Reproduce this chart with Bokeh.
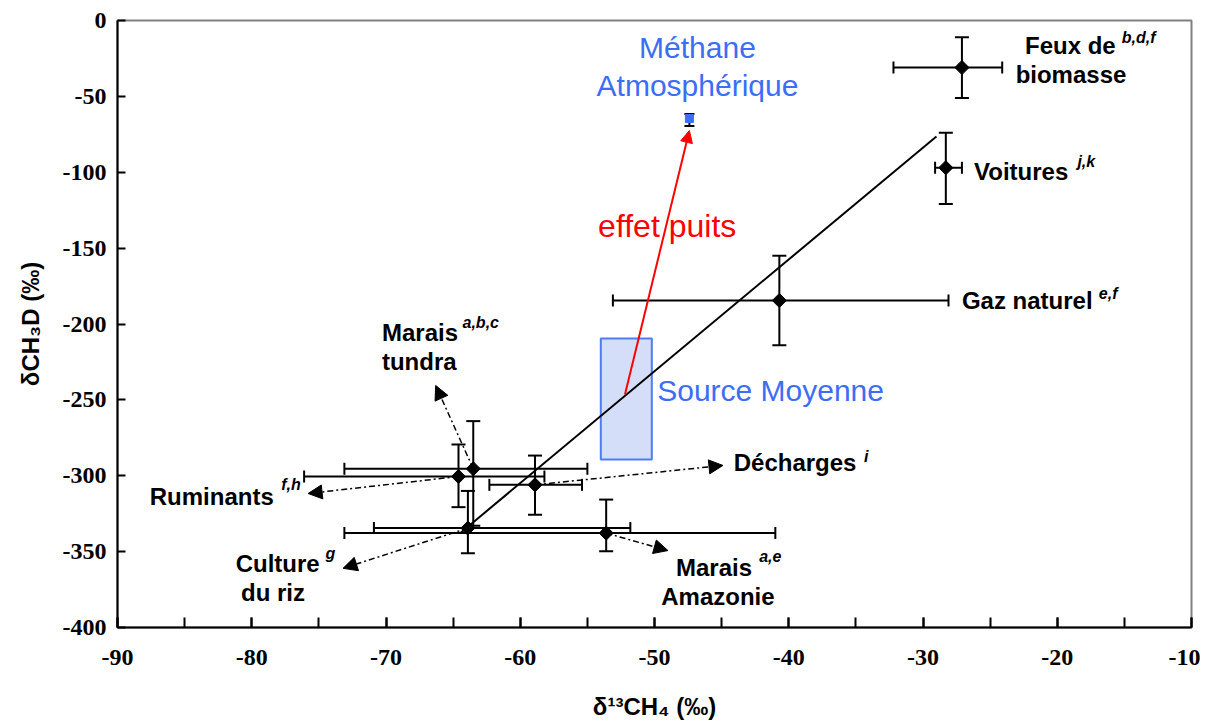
import math
from bokeh.plotting import figure
from bokeh.models import (ColumnDataSource, Whisker, TeeHead, Arrow, NormalHead,
                          FixedTicker, Range1d)
from bokeh.core.properties import value
from bokeh.embed import file_html
from bokeh.resources import INLINE

# ---------------- data ----------------
src_names = ["Feux de biomasse", "Voitures", "Gaz naturel", "Marais tundra",
             "Ruminants", "Décharges", "Culture du riz", "Marais Amazonie"]
src_x = [-27.1, -28.3, -40.7, -63.5, -64.6, -58.9, -63.9, -53.6]
src_y = [-31.0, -97.0, -184.5, -295.4, -300.5, -306.0, -334.5, -337.8]
src_x_low = [-32.2, -29.1, -53.1, -73.1, -76.1, -62.3, -70.9, -73.1]
src_x_high = [-24.1, -27.1, -28.1, -55.0, -58.2, -55.4, -51.8, -41.0]
src_y_low = [-51.0, -121.0, -214.0, -333.0, -320.7, -325.7, -351.0, -349.7]
src_y_high = [-11.0, -74.0, -155.0, -264.0, -279.4, -286.7, -310.0, -315.7]

# arrow end points of the dashed pointers (start = source point)
ptr_x_end = [-66.3, -75.8, -44.9, -73.2, -49.0]
ptr_y_end = [-240.5, -311.7, -293.2, -361.0, -349.3]
ptr_from = [3, 4, 5, 6, 7]

atm_x = [-47.4]
atm_y = [-64.6]
atm_y_low = [-69.5]
atm_y_high = [-61.6]

fit_x = [-64.5, -29.0]
fit_y = [-338.0, -76.4]

box_left, box_right = [-54.0], [-50.2]
box_top, box_bottom = [-209.6], [-289.3]

sink_x = [-52.2, -47.4]
sink_y = [-246.5, -72.5]

x_ticks = list(range(-90, -9, 10))
x_minor = list(range(-90, -9, 5))
y_ticks = list(range(-400, 1, 50))

# labels
lab_text = ["Feux de", "biomasse", "Voitures", "Gaz naturel", "Marais", "tundra",
            "Ruminants", "Décharges", "Culture", "du riz", "Marais", "Amazonie"]
lab_x = [-22.4, -23.1, -26.2, -27.1, -70.3, -70.3, -87.6, -44.1, -81.2, -80.8, -48.4, -49.5]
lab_y = [-16.5, -35.6, -99.5, -184.5, -205.6, -224.7, -314.0, -291.0, -357.8, -377.0, -360.5, -379.6]

sup_text = ["b,d,f", "j,k", "e,f", "a,b,c", "f,h", "i", "g", "a,e"]
sup_x = [-15.2, -18.5, -16.9, -64.3, -77.8, -34.4, -74.5, -42.2]
sup_y = [-11.2, -92.9, -179.9, -199.0, -305.8, -287.3, -351.2, -353.2]

blue_text = ["Méthane", "Atmosphérique", "Source Moyenne"]
blue_x = [-46.8, -46.8, -49.8]
blue_y = [-17.8, -42.8, -243.8]
blue_align = ["center", "center", "left"]

red_text = ["effet puits"]
red_x = [-54.2]
red_y = [-135.7]

BLUE = "#3C6DF5"

# ---------------- figure ----------------
p = figure(width=1200, height=722, x_range=Range1d(-90, -10), y_range=Range1d(-400, 0),
           output_backend="svg", toolbar_location=None,
           min_border_left=117, min_border_right=9, min_border_top=20, min_border_bottom=95)
p.grid.visible = False
p.background_fill_color = "white"
p.outline_line_color = "#808080"
p.outline_line_width = 2

for ax in (p.xaxis[0], p.yaxis[0]):
    ax.axis_line_width = 2
    ax.axis_line_color = "black"
    ax.major_tick_line_width = 2
    ax.minor_tick_line_width = 2
    ax.major_tick_out = 0
    ax.minor_tick_out = 0
    ax.major_label_text_font = "Liberation Serif"
    ax.major_label_text_font_style = "bold"
    ax.major_label_text_font_size = "24px"
    ax.major_label_text_color = "black"
    ax.axis_label_text_font = "Liberation Sans"
    ax.axis_label_text_font_style = "bold"
    ax.axis_label_text_font_size = "24px"
    ax.axis_label_text_color = "black"

p.xaxis.ticker = FixedTicker(ticks=x_ticks, minor_ticks=x_minor)
p.xaxis.major_label_overrides = {t: str(t) for t in x_ticks}
p.xaxis.major_tick_in = 10
p.xaxis.minor_tick_in = 10
p.xaxis.major_label_standoff = 22
p.xaxis.axis_label = "δ¹³CH₄ (‰)"
p.xaxis.axis_label_standoff = 25

p.yaxis.ticker = FixedTicker(ticks=y_ticks, minor_ticks=[])
p.yaxis.major_label_overrides = {t: str(t) for t in y_ticks}
p.yaxis.major_tick_in = 8
p.yaxis.minor_tick_line_color = None
p.yaxis.major_label_standoff = 11
p.yaxis.axis_label = "δCH₃D (‰)"
p.yaxis.axis_label_standoff = 16

# source box
p.quad(left=box_left, right=box_right, top=box_top, bottom=box_bottom,
       fill_color="#D5DEF8", line_color="#4D7CF5", line_width=2)

# regression line
p.line(fit_x, fit_y, line_color="black", line_width=2)

# dashed pointers
ptr_src = ColumnDataSource(dict(
    xs=[src_x[i] for i in ptr_from], ys=[src_y[i] for i in ptr_from],
    xe=ptr_x_end, ye=ptr_y_end))
p.add_layout(Arrow(source=ptr_src, x_start="xs", y_start="ys", x_end="xe", y_end="ye",
                   line_color="black", line_width=1.5, line_dash="6 3 2 3",
                   end=NormalHead(size=14, fill_color="black", line_color="black")))

# error bars
src = ColumnDataSource(dict(x=src_x, y=src_y, xl=src_x_low, xh=src_x_high,
                            yl=src_y_low, yh=src_y_high))
p.add_layout(Whisker(source=src, base="y", lower="xl", upper="xh", dimension="width",
                     line_color="black", line_width=2,
                     lower_head=TeeHead(size=12, line_width=2, line_color="black"),
                     upper_head=TeeHead(size=12, line_width=2, line_color="black")))
p.add_layout(Whisker(source=src, base="x", lower="yl", upper="yh", dimension="height",
                     line_color="black", line_width=2,
                     lower_head=TeeHead(size=14, line_width=2, line_color="black"),
                     upper_head=TeeHead(size=14, line_width=2, line_color="black")))
p.scatter("x", "y", source=src, marker="square", angle=math.pi / 4, size=10, color="black")

# atmospheric methane
atm = ColumnDataSource(dict(x=atm_x, y=atm_y, yl=atm_y_low, yh=atm_y_high))
p.add_layout(Whisker(source=atm, base="x", lower="yl", upper="yh", dimension="height",
                     line_color="black", line_width=2,
                     lower_head=TeeHead(size=10, line_width=2, line_color="black"),
                     upper_head=TeeHead(size=10, line_width=2, line_color="black")))
p.scatter("x", "y", source=atm, marker="square", size=8, color=BLUE)

# sink effect arrow
p.add_layout(Arrow(x_start=sink_x[0], y_start=sink_y[0], x_end=sink_x[1], y_end=sink_y[1],
                   line_color="red", line_width=2,
                   end=NormalHead(size=12, fill_color="red", line_color="red")))

# texts
p.text(lab_x, lab_y, text=lab_text, text_font=value("Liberation Sans"),
       text_font_style="bold", text_font_size="24px", text_baseline="middle",
       text_align="left", text_color="black")
p.text(sup_x, sup_y, text=sup_text, text_font=value("Liberation Sans"),
       text_font_style="bold italic", text_font_size="16px", text_baseline="middle",
       text_align="left", text_color="black")
p.text(blue_x, blue_y, text=blue_text, text_font=value("Liberation Sans"),
       text_font_size="30px", text_baseline="middle", text_align=blue_align,
       text_color=BLUE)
p.text(red_x, red_y, text=red_text, text_font=value("Liberation Sans"),
       text_font_size="32px", text_baseline="middle", text_align="left",
       text_color="red")

open("out.html", "w").write(file_html(p, INLINE))
